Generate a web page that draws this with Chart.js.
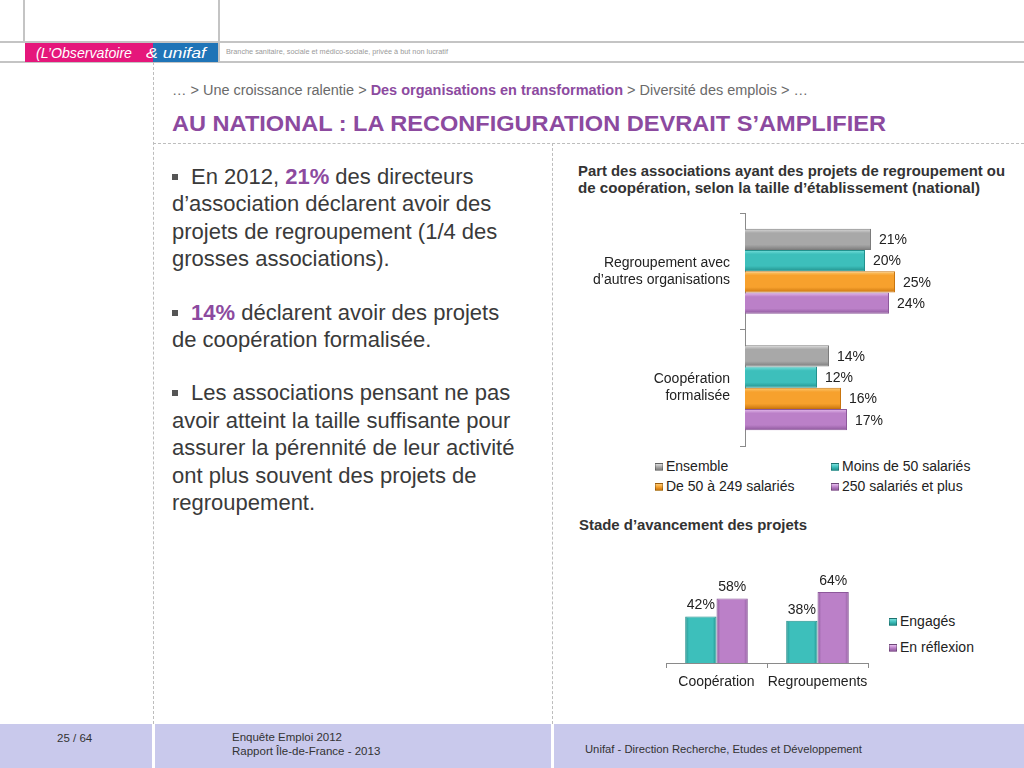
<!DOCTYPE html>
<html lang="fr">
<head>
<meta charset="UTF-8">
<title>Au national : la reconfiguration devrait s'amplifier</title>
<script src="https://cdn.jsdelivr.net/npm/chart.js@4.4.1/dist/chart.umd.min.js"></script>
<style>
    body { margin: 0; background: #fff; font-family: 'Liberation Sans', Arial, sans-serif; color: #333; }
    .slide { position: relative; width: 1024px; height: 768px; overflow: hidden; background: #fff; }
    .abs { position: absolute; }
    .fit { display: inline-block; white-space: nowrap; transform-origin: 0 50%; }

    /* header */
    .hline { position: absolute; left: 0; width: 1024px; height: 2px; background: #c4c4c4; }
    .vline { position: absolute; width: 2px; background: #c4c4c4; }
    .logo-pink { left: 25px; top: 43px; width: 128px; height: 19px; background: #e5177b; }
    .logo-blue { left: 153px; top: 43px; width: 65px; height: 19px; background: #1f74b7; }
    .logo-txt { color: #fff; font-style: italic; font-size: 15px; line-height: 19px; }
    .tagline { left: 226px; top: 46px; font-size: 8px; color: #9a9a9a; line-height: 12px; }

    /* dashed frame */
    .dv { position: absolute; width: 0; border-left: 1px dashed #bdbdbd; }
    .dh { position: absolute; height: 0; border-top: 1px dashed #bdbdbd; }

    .crumb { left: 172px; top: 81px; font-size: 14px; color: #6a6a6a; line-height: 18px; }
    .crumb b { color: #8c4a9f; }
    .title { left: 172px; top: 111px; font-size: 22px; font-weight: bold; color: #8c4a9f; line-height: 26px; }

    .body-text { left: 172px; top: 163px; font-size: 22px; line-height: 27.4px; color: #3a3a3a; white-space: nowrap; }
    .body-text p { margin: 0 0 26px 0; }
    .body-text b { color: #8c4a9f; }
    .sq { display: inline-block; width: 6px; height: 6px; background: #555; margin-right: 13px; vertical-align: 4px; }

    .ctitle { font-size: 14.5px; font-weight: bold; color: #333; line-height: 17px; }

    .legend { position: absolute; font-size: 14px; color: #222; }
    .legend .it { position: absolute; white-space: nowrap; line-height: 18px; }
    .legend .mk { display: inline-block; width: 8px; height: 8px; margin-right: 3px; vertical-align: 0px; border: 1px solid rgba(0,0,0,0.25); box-sizing: border-box; }

    /* footer */
    .footer { left: 0; top: 724px; width: 1024px; height: 44px; background: #c9c9ec; }
    .fsep { position: absolute; top: 724px; width: 3px; height: 44px; background: #fff; }
    .ftxt { font-size: 11.5px; color: #333; line-height: 14px; }
</style>
</head>
<body>
<div class="slide">
    <!-- header -->
    <div class="hline" style="top:41px"></div>
    <div class="hline" style="top:61px"></div>
    <div class="vline" style="left:23px; top:0; height:42px"></div>
    <div class="vline" style="left:218px; top:0; height:62px"></div>
    <div class="abs logo-pink"></div>
    <div class="abs logo-blue"></div>
    <div class="abs logo-txt" style="left:36px; top:43px"><span class="fit" data-w="96">(L’Observatoire</span></div>
    <div class="abs logo-txt" style="left:146px; top:43px"><span class="fit" data-w="60">&amp; unifaf</span></div>
    <div class="abs tagline"><span class="fit" data-w="222">Branche sanitaire, sociale et médico-sociale, privée à but non lucratif</span></div>

    <!-- dashed frame -->
    <div class="dv" style="left:153px; top:62px; height:662px"></div>
    <div class="dh" style="left:153px; top:143px; width:871px"></div>
    <div class="dv" style="left:552px; top:143px; height:581px"></div>

    <div class="abs crumb"><span class="fit" data-w="636">… &gt; Une croissance ralentie &gt; <b>Des organisations en transformation</b> &gt; Diversité des emplois &gt; …</span></div>
    <div class="abs title"><span class="fit" data-w="714">AU NATIONAL : LA RECONFIGURATION DEVRAIT S’AMPLIFIER</span></div>

    <div class="abs body-text">
        <p><span class="sq"></span>En 2012, <b>21%</b> des directeurs<br>d’association déclarent avoir des<br>projets de regroupement (1/4 des<br>grosses associations).</p>
        <p><span class="sq"></span><b>14%</b> déclarent avoir des projets<br>de coopération formalisée.</p>
        <p><span class="sq"></span>Les associations pensant ne pas<br>avoir atteint la taille suffisante pour<br>assurer la pérennité de leur activité<br>ont plus souvent des projets de<br>regroupement.</p>
    </div>

    <!-- chart 1 -->
    <div class="abs ctitle" style="left:578px; top:163px">
        <span class="fit" data-w="427">Part des associations ayant des projets de regroupement ou</span><br>
        <span class="fit" data-w="402">de coopération, selon la taille d’établissement (national)</span>
    </div>
    <div class="abs" style="left:575px; top:205px; width:420px; height:250px"><canvas id="chartProjets"></canvas></div>
    <div class="legend" id="legendProjets" style="left:655px; top:457px"></div>

    <!-- chart 2 -->
    <div class="abs ctitle" style="left:579px; top:517px"><span class="fit" data-w="228">Stade d’avancement des projets</span></div>
    <div class="abs" style="left:640px; top:545px; width:240px; height:150px"><canvas id="chartStade"></canvas></div>
    <div class="legend" id="legendStade" style="left:889px; top:612px"></div>

    <!-- footer -->
    <div class="abs footer"></div>
    <div class="fsep" style="left:152px"></div>
    <div class="fsep" style="left:551px"></div>
    <div class="abs ftxt" style="left:57px; top:731px">25 / 64</div>
    <div class="abs ftxt" style="left:232px; top:730px">Enquête Emploi 2012<br>Rapport Île-de-France - 2013</div>
    <div class="abs ftxt" style="left:585px; top:742px"><span class="fit" data-w="277">Unifaf - Direction Recherche, Etudes et Développement</span></div>
</div>

<script>
// --- data ---
const projetCategories = [['Regroupement avec', 'd’autres organisations'], ['Coopération', 'formalisée']];
const tailleSeries = ['Ensemble', 'Moins de 50 salariés', 'De 50 à 249 salariés', '250 salariés et plus'];
const ensemble = [21, 14];
const moins50 = [20, 12];
const de50a249 = [25, 16];
const plus250 = [24, 17];

const stadeCategories = ['Coopération', 'Regroupements'];
const stadeSeries = ['Engagés', 'En réflexion'];
const engages = [42, 38];
const enReflexion = [58, 64];

// colours: light / mid / dark for the shaded bars
const shades = {
    grey:   ['#dcdcdc', '#a8a8a8', '#7c7c7c'],
    teal:   ['#79e0dc', '#3dbfbb', '#22918d'],
    orange: ['#fdca72', '#f7a12d', '#c9750e'],
    purple: ['#e6bdee', '#bb80c8', '#8d589b']
};

const FONT = "'Liberation Sans', Arial, sans-serif";

// stretch text spans to the widths measured on the slide
document.querySelectorAll('.fit').forEach(function(el) {
    const w = el.getBoundingClientRect().width;
    if (w > 0) el.style.transform = 'scaleX(' + (parseFloat(el.dataset.w) / w) + ')';
});

// give every bar a shaded gradient based on its real position
const shadePlugin = {
    id: 'shade',
    beforeDatasetsDraw(chart) {
        const ctx = chart.ctx;
        const horizontal = chart.options.indexAxis === 'y';
        chart.data.datasets.forEach(function(ds, i) {
            const meta = chart.getDatasetMeta(i);
            const s = ds.shade;
            meta.data.forEach(function(el) {
                const p = el.getProps(['x', 'y', 'base', 'width', 'height'], true);
                let g;
                if (horizontal) {
                    g = ctx.createLinearGradient(0, p.y - p.height / 2, 0, p.y + p.height / 2);
                    g.addColorStop(0, s[0]);
                    g.addColorStop(0.2, s[1]);
                    g.addColorStop(0.75, s[1]);
                    g.addColorStop(1, s[2]);
                } else {
                    g = ctx.createLinearGradient(p.x - p.width / 2, 0, p.x + p.width / 2, 0);
                    g.addColorStop(0, s[2]);
                    g.addColorStop(0.12, s[1]);
                    g.addColorStop(0.5, s[1]);
                    g.addColorStop(0.88, s[1]);
                    g.addColorStop(1, s[2]);
                }
                el.options = Object.assign({}, el.options, { backgroundColor: g });
            });
        });
    }
};

// percentage labels next to / above the bars
const valueLabels = {
    id: 'valueLabels',
    afterDatasetsDraw(chart) {
        const ctx = chart.ctx;
        const horizontal = chart.options.indexAxis === 'y';
        ctx.save();
        ctx.font = '14px ' + FONT;
        ctx.fillStyle = '#222';
        chart.data.datasets.forEach(function(ds, i) {
            chart.getDatasetMeta(i).data.forEach(function(el, j) {
                const txt = ds.data[j] + '%';
                if (horizontal) {
                    ctx.textAlign = 'left';
                    ctx.textBaseline = 'middle';
                    ctx.fillText(txt, el.x + 8, el.y + 1);
                } else {
                    ctx.textAlign = 'center';
                    ctx.textBaseline = 'bottom';
                    ctx.fillText(txt, el.x, el.y - 4);
                }
            });
        });
        ctx.restore();
    }
};

function makeLegend(id, names, shadeList, positions) {
    const box = document.getElementById(id);
    names.forEach(function(name, i) {
        const s = shadeList[i];
        const it = document.createElement('div');
        it.className = 'it';
        it.style.left = positions[i][0] + 'px';
        it.style.top = positions[i][1] + 'px';
        it.innerHTML = '<span class="mk" style="background:linear-gradient(' + s[0] + ',' + s[1] + ' 50%,' + s[2] + ')"></span>' + name;
        box.appendChild(it);
    });
}

const shadeTop = [shades.grey, shades.teal, shades.orange, shades.purple];
const topValues = [ensemble, moins50, de50a249, plus250];

new Chart(document.getElementById('chartProjets'), {
    type: 'bar',
    data: {
        labels: projetCategories,
        datasets: tailleSeries.map(function(name, i) {
            return {
                label: name,
                data: topValues[i],
                shade: shadeTop[i],
                backgroundColor: shadeTop[i][1],
                borderColor: shadeTop[i][2],
                borderWidth: 1,
                categoryPercentage: 0.73,
                barPercentage: 1.0
            };
        })
    },
    options: {
        indexAxis: 'y',
        responsive: true,
        maintainAspectRatio: false,
        animation: false,
        layout: { padding: { left: 0, top: 8, right: 70, bottom: 9 } },
        plugins: { legend: { display: false }, tooltip: { enabled: false } },
        scales: {
            x: { display: false, min: 0, max: 30 },
            y: {
                // fixed axis width, and no extra room for the two-line labels
                afterFit: function(s) { s.width = 170; s.paddingTop = 0; s.paddingBottom = 0; },
                border: { display: true, color: '#8a8a8a', width: 1 },
                grid: { drawOnChartArea: false, drawTicks: true, tickLength: 5, color: '#8a8a8a', offset: true },
                ticks: { crossAlign: 'near', padding: 10, color: '#222', font: { family: FONT, size: 14 } }
            }
        }
    },
    plugins: [shadePlugin, valueLabels]
});

makeLegend('legendProjets', tailleSeries, shadeTop, [[0, 0], [176, 0], [0, 20], [176, 20]]);

const shadeBottom = [shades.teal, shades.purple];
const bottomValues = [engages, enReflexion];

new Chart(document.getElementById('chartStade'), {
    type: 'bar',
    data: {
        labels: stadeCategories,
        datasets: stadeSeries.map(function(name, i) {
            return {
                label: name,
                data: bottomValues[i],
                shade: shadeBottom[i],
                backgroundColor: shadeBottom[i][1],
                borderColor: shadeBottom[i][2],
                borderWidth: 1,
                categoryPercentage: 0.62,
                barPercentage: 1.0
            };
        })
    },
    options: {
        responsive: true,
        maintainAspectRatio: false,
        animation: false,
        layout: { padding: { left: 26, top: 7, right: 12, bottom: 0 } },
        plugins: { legend: { display: false }, tooltip: { enabled: false } },
        scales: {
            y: { display: false, min: 0, max: 100 },
            x: {
                afterFit: function(s) { s.height = 32; s.paddingLeft = 0; s.paddingRight = 0; },
                border: { display: true, color: '#8a8a8a', width: 1 },
                grid: { drawOnChartArea: false, drawTicks: true, tickLength: 5, color: '#8a8a8a', offset: true },
                ticks: { padding: 6, color: '#222', maxRotation: 0, autoSkip: false, font: { family: FONT, size: 14 } }
            }
        }
    },
    plugins: [shadePlugin, valueLabels]
});

makeLegend('legendStade', stadeSeries, shadeBottom, [[0, 0], [0, 26]]);
</script>
</body>
</html>
